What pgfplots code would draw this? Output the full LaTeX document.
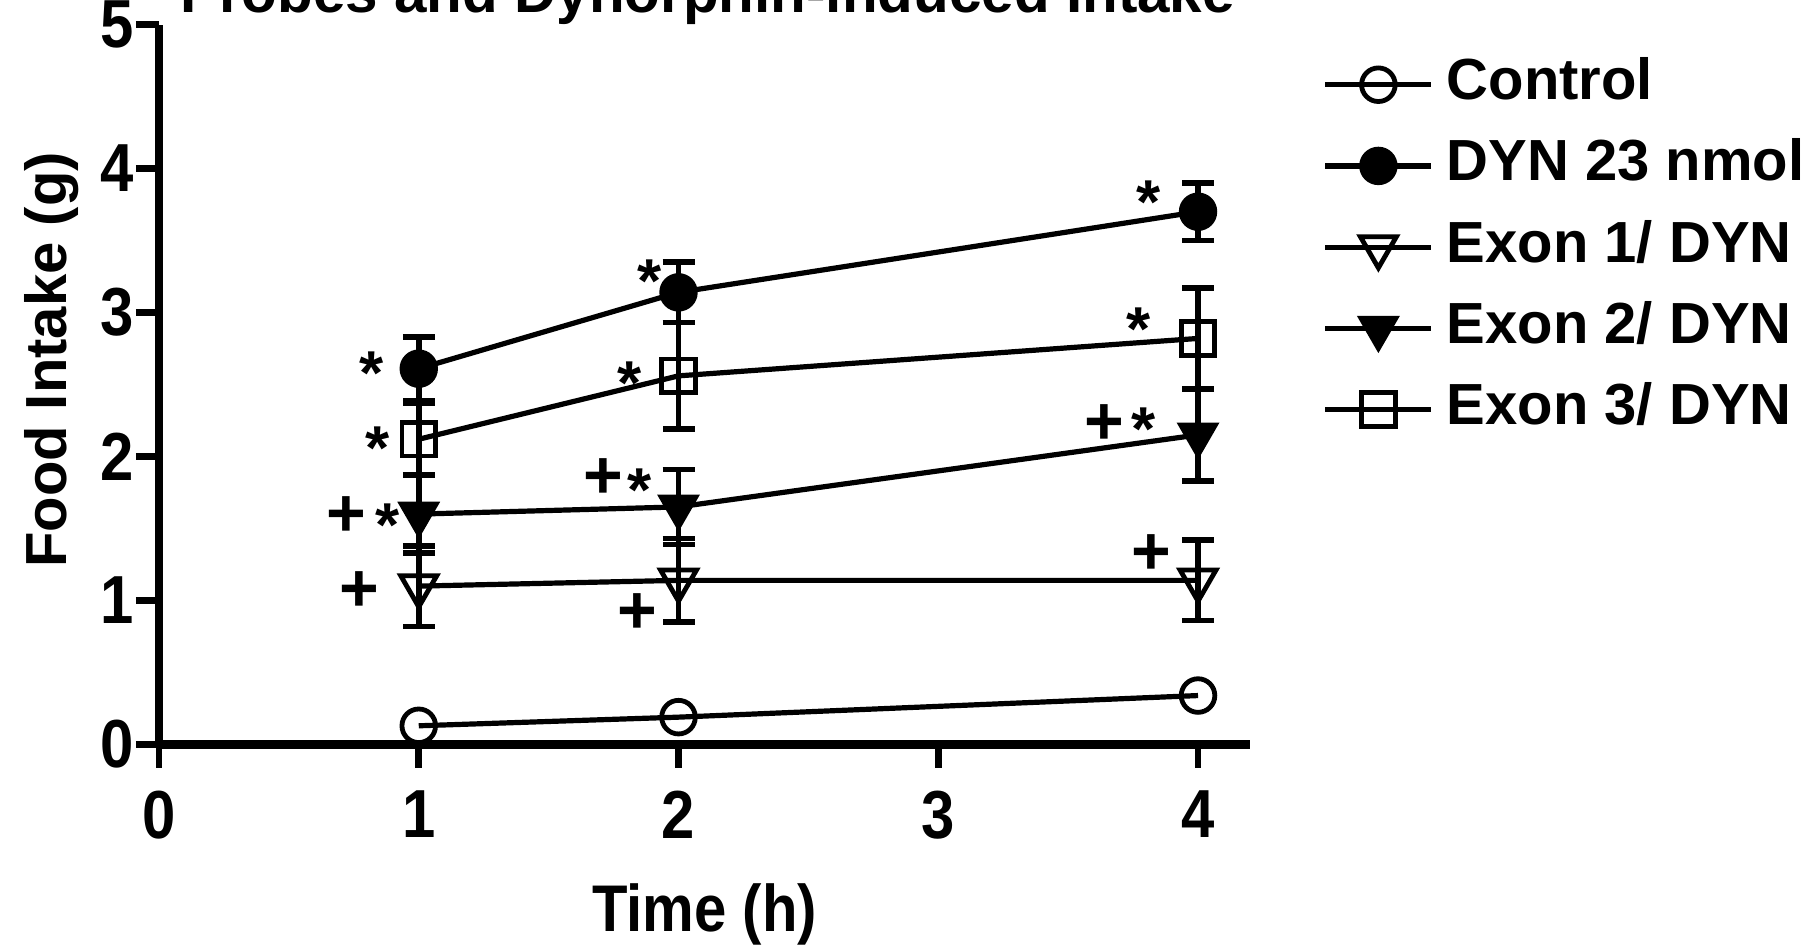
\documentclass[border=0pt]{standalone}
\usepackage{pgfplots}
\usepackage{pgfplotstable}
\pgfplotsset{compat=1.18}
\usepackage{fontspec}
\setmainfont{Liberation Sans}
\newfontfamily\narrowfont{Liberation Sans}[FakeStretch=0.88]

\pgfplotstableread{
x y e
1 0.13 0
2 0.19 0
4 0.34 0
}\control
\pgfplotstableread{
x y e
1 2.61 0.22
2 3.14 0.21
4 3.70 0.20
}\dyn
\pgfplotstableread{
x y e
1 1.10 0.28
2 1.14 0.29
4 1.14 0.28
}\exonone
\pgfplotstableread{
x y e
1 1.60 0.27
2 1.65 0.26
4 2.15 0.32
}\exontwo
\pgfplotstableread{
x y e
1 2.12 0.25
2 2.56 0.37
4 2.82 0.35
}\exonthree

\begin{document}
\begin{tikzpicture}
\begin{axis}[
  x=64.94pt, y=36pt,
  xmin=0, xmax=4.2, ymin=0, ymax=5,
  axis lines=left,
  axis line style={-, line width=2.2pt},
  tick align=outside,
  major tick length=5.75pt,
  tick style={line width=1.7pt, black},
  xtick={0,1,2,3,4}, ytick={0,1,2,3,4,5},
  /pgf/number format/assume math mode=true,
  ticklabel style={font=\narrowfont\fontsize{17}{19}\selectfont\bfseries},
  xticklabel style={yshift=-2.3pt},
  yticklabel style={xshift=3pt},
  xlabel={Time (h)},
  ylabel={Food Intake (g)},
  xlabel style={font=\narrowfont\fontsize{16.5}{19}\selectfont\bfseries,
    at={(axis description cs:0.5,0)}, anchor=center, yshift=-42.5pt},
  ylabel style={font=\fontsize{14.5}{17}\selectfont\bfseries,
    at={(axis description cs:-0.098,0.534)}, anchor=center},
  clip=false,
  every axis plot/.append style={black, line width=1.3pt},
  error bars/error bar style={line width=1.4pt},
  error bars/error mark options={rotate=90, mark size=4pt, line width=1.4pt},
  legend style={at={(axis description cs:1,1)}, anchor=north west,
    xshift=18pt, yshift=-8.1pt, draw=none, fill=none,
    font=\fontsize{14.5}{17}\selectfont\bfseries,
    inner sep=0pt, row sep=6.8pt, column sep=3.2pt,
    nodes={inner sep=0pt, text height=10.5pt, text depth=3pt}},
  legend cell align=left,
  legend image code/.code={\draw[mark repeat=2,mark phase=2] plot coordinates {(0pt,0pt)(13.25pt,0pt)(26.5pt,0pt)};},
]
\addplot[mark=o, mark size=4.2pt, mark options={solid, line width=1.2pt}] table[x=x, y=y] {\control};
\addlegendentry{Control}
\addplot[mark=*, mark size=4.3pt, mark options={solid, line width=1pt},
  error bars/.cd, y dir=both, y explicit] table[x=x, y=y, y error=e] {\dyn};
\addlegendentry{DYN 23 nmol}
\addplot[mark=triangle, mark size=5.2pt, mark options={solid, rotate=180, line width=1.2pt, fill=white},
  error bars/.cd, y dir=both, y explicit] table[x=x, y=y, y error=e] {\exonone};
\addlegendentry{Exon 1/ DYN}
\addplot[mark=triangle*, mark size=5.2pt, mark options={solid, rotate=180, line width=1pt},
  error bars/.cd, y dir=both, y explicit] table[x=x, y=y, y error=e] {\exontwo};
\addlegendentry{Exon 2/ DYN}
\addplot[mark=square, mark size=4.2pt, mark options={solid, line width=1.2pt, fill=white},
  error bars/.cd, y dir=both, y explicit] table[x=x, y=y, y error=e] {\exonthree};
\addlegendentry{Exon 3/ DYN}

\tikzset{sig/.style={font=\fontsize{17}{17}\selectfont\bfseries, inner sep=0pt},
         star/.style={font=\fontsize{15.5}{15.5}\selectfont\bfseries, inner sep=0pt, yshift=-3pt}}
% significance markers
\node[star] at (axis cs:0.82,2.66) {*};
\node[star] at (axis cs:0.84,2.14) {*};
\node[sig]  at (axis cs:0.72,1.58) {+};
\node[star] at (axis cs:0.88,1.61) {*};
\node[sig]  at (axis cs:0.77,1.06) {+};
\node[star] at (axis cs:1.89,3.30) {*};
\node[star] at (axis cs:1.81,2.59) {*};
\node[sig]  at (axis cs:1.71,1.85) {+};
\node[star] at (axis cs:1.85,1.85) {*};
\node[sig]  at (axis cs:1.84,0.91) {+};
\node[star] at (axis cs:3.81,3.85) {*};
\node[star] at (axis cs:3.77,2.97) {*};
\node[sig]  at (axis cs:3.64,2.22) {+};
\node[star] at (axis cs:3.79,2.27) {*};
\node[sig]  at (axis cs:3.82,1.32) {+};

\coordinate (O) at (axis cs:0,0);
\end{axis}
\node[anchor=base west, font=\fontsize{14.6}{17}\selectfont\bfseries] at ([shift={(1.8pt,183.1pt)}]O) {Probes and Dynorphin-induced Intake};
\pgfresetboundingbox
\useasboundingbox ([shift={(-39.75pt,-50.125pt)}]O) rectangle ([shift={(413.25pt,186.125pt)}]O);
\end{tikzpicture}
\end{document}
